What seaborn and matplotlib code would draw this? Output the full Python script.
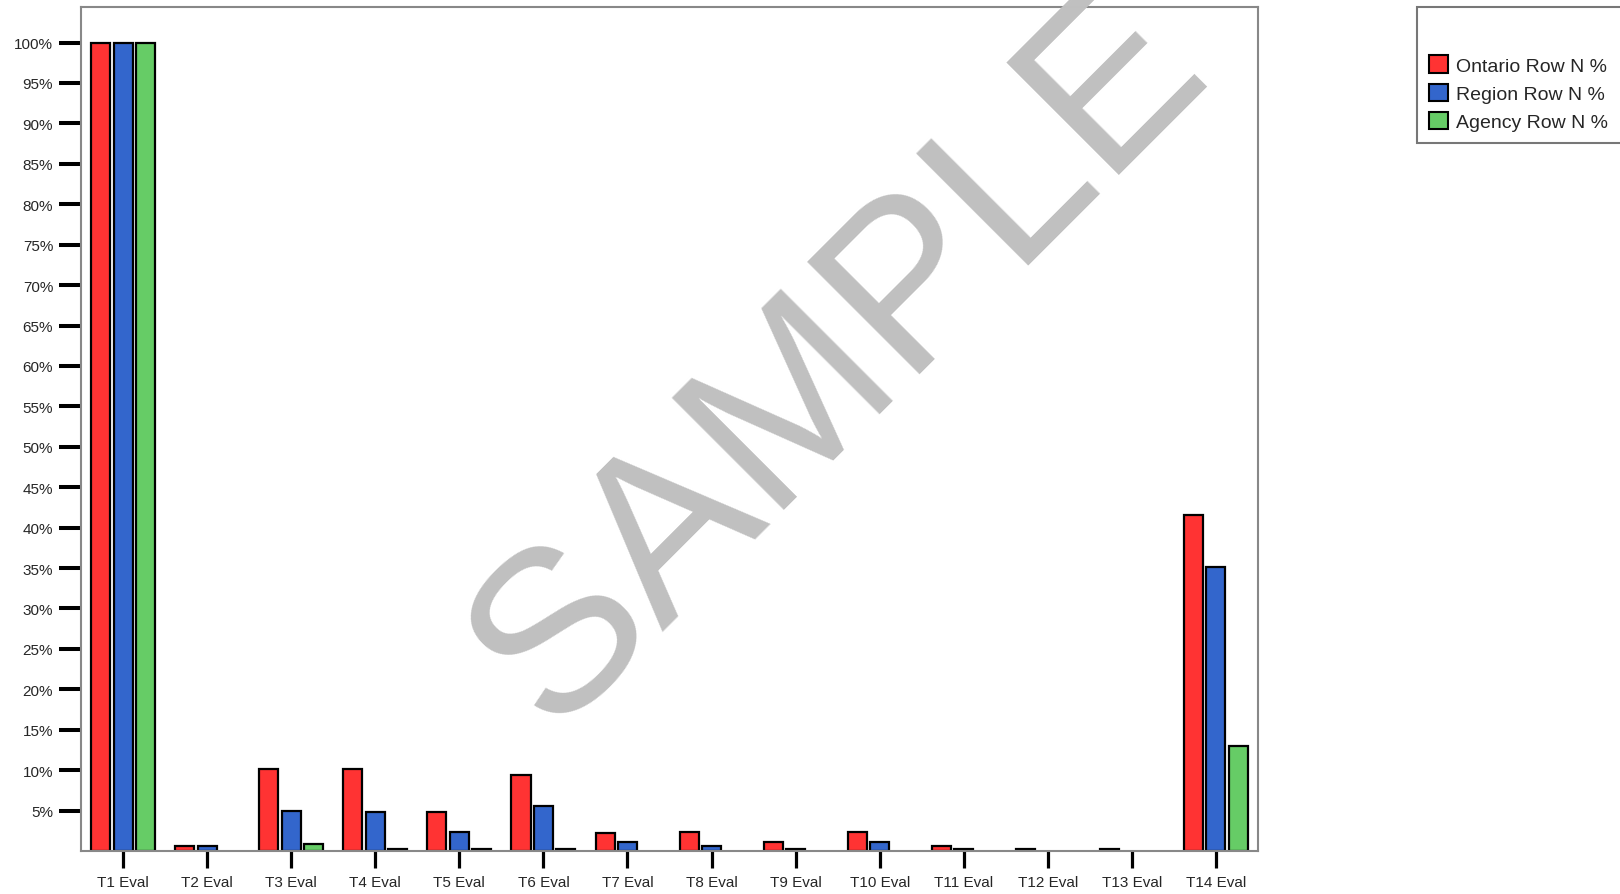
import numpy as np
import pandas as pd
import matplotlib
matplotlib.use("Agg")
import matplotlib.pyplot as plt
import seaborn as sns
from matplotlib.patches import Patch

# values (percent)
categories = ["T1 Eval", "T2 Eval", "T3 Eval", "T4 Eval", "T5 Eval", "T6 Eval", "T7 Eval",
              "T8 Eval", "T9 Eval", "T10 Eval", "T11 Eval", "T12 Eval", "T13 Eval", "T14 Eval"]
series = ["Ontario Row N %", "Region Row N %", "Agency Row N %"]
ontario = [100, 0.66, 10.2, 10.2, 4.8, 9.4, 2.2, 2.4, 1.1, 2.4, 0.66, 0.2, 0.2, 41.6]
region = [100, 0.66, 5.0, 4.8, 2.4, 5.6, 1.1, 0.66, 0.2, 1.1, 0.2, np.nan, np.nan, 35.1]
agency = [100, np.nan, 0.86, 0.2, 0.2, 0.2, np.nan, np.nan, np.nan, np.nan, np.nan, np.nan, np.nan, 13.0]
colors = ["#FF3333", "#3366CC", "#66CC66"]
yticks = list(range(5, 101, 5))

df = pd.DataFrame({"cat": categories, series[0]: ontario, series[1]: region, series[2]: agency})
df = df.melt(id_vars="cat", var_name="series", value_name="pct").dropna()

sns.set_style("white")
plt.rcParams["font.family"] = ["Liberation Sans", "DejaVu Sans"]

fig = plt.figure(figsize=(16.2, 8.95), dpi=100)
ax = fig.add_axes([81 / 1620, 1 - 852 / 895, (1258 - 81) / 1620, (852 - 8) / 895])

sns.barplot(ax=ax, data=df, x="cat", y="pct", hue="series", order=categories, hue_order=series,
            palette=dict(zip(series, colors)), saturation=1, width=0.8, gap=0.15,
            edgecolor="black", linewidth=1.6, errorbar=None, legend=False)

ax.set_xlim(-0.5, len(categories) - 0.5)
ax.set_ylim(0, 104.4)
ax.set_yticks(yticks)
ax.set_yticklabels([f"{v}%" for v in yticks])
ax.set_xlabel("")
ax.set_ylabel("")
ax.tick_params(axis="y", length=16, width=2.9, color="black", labelsize=11, pad=4, left=True)
ax.tick_params(axis="x", length=12, width=2.3, color="black", labelsize=11, pad=5, bottom=True)
for s in ax.spines.values():
    s.set_color("#888888")
    s.set_linewidth(1.5)

handles = [Patch(facecolor=c, edgecolor="black", linewidth=1.5) for c in colors]
leg = fig.legend(handles, series, loc="upper left", bbox_to_anchor=(1417 / 1620, 1 - 8 / 895, 0.2, 0.0),
                 mode="expand", fontsize=14, title=" ", title_fontsize=21, frameon=True, fancybox=False,
                 handlelength=1.0, handleheight=1.0, labelspacing=0.45, handletextpad=0.4,
                 borderpad=0.6, borderaxespad=0)
leg.get_frame().set_edgecolor("#555555")
leg.get_frame().set_linewidth(1.5)

# watermark
fig.text(840 / 1620, 1 - 360 / 895, "SAMPLE", fontsize=166, color="#C0C0C0", rotation=45,
         ha="center", va="center", zorder=10)

fig.savefig("out.png", dpi=100)
